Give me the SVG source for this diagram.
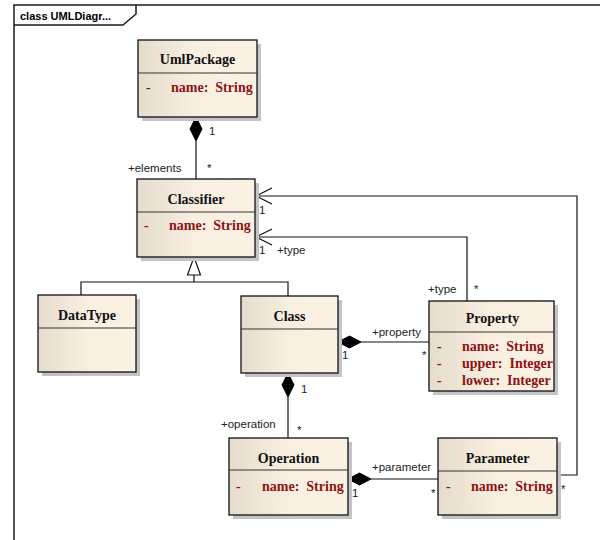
<svg xmlns="http://www.w3.org/2000/svg" width="600" height="540" viewBox="0 0 600 540">
  <style>
    .frame { fill: none; stroke: #1a1a1a; stroke-width: 1.5; }
    .frame-title { font-family: "Liberation Sans", Arial, sans-serif; font-size: 11px; font-weight: bold; fill: #000; }
    .shadow { fill: #c4c4c4; }
    .box { fill: url(#classFill); stroke: #111; stroke-width: 1.3; }
    .divider { stroke: #333; stroke-width: 1.2; }
    .title { font-family: "Liberation Serif", "Times New Roman", serif; font-size: 14px; font-weight: bold; fill: #111; text-anchor: middle; }
    .attr { font-family: "Liberation Serif", "Times New Roman", serif; font-size: 14px; font-weight: bold; fill: #8e1212; white-space: pre; }
    .edge { fill: none; stroke: #111; stroke-width: 1.2; }
    .diamond { fill: #000; stroke: #000; stroke-width: 1; }
    .gen { fill: #fff; stroke: #111; stroke-width: 1.2; }
    .lbl { font-family: "Liberation Sans", Arial, sans-serif; font-size: 11.5px; fill: #222; }
  </style>
  <defs>
    <linearGradient id="classFill" x1="0" y1="0" x2="1" y2="0">
      <stop offset="0" stop-color="#e5dccd"/>
      <stop offset="0.5" stop-color="#f8efe1"/>
      <stop offset="1" stop-color="#fbf2e4"/>
    </linearGradient>
  </defs>

  <rect width="600" height="540" fill="#fff"/>

  <!-- diagram frame with name tab -->
  <g id="frame">
    <path class="frame" d="M14,541 V5 H601"/>
    <path class="frame" d="M14,25 H123 L136,14 V5"/>
    <text class="frame-title" x="20" y="20">class UMLDiagr...</text>
  </g>

  <!-- connectors -->
  <g id="connectors">
    <!-- UmlPackage composes Classifier -->
    <line class="edge" x1="196" y1="141" x2="196" y2="179"/>
    <polygon class="diamond" points="196,117 202,129 196,141 190,129"/>

    <!-- Parameter -> Classifier -->
    <polyline class="edge" points="557,475 577,475 577,196 256,196"/>
    <polyline class="edge" points="272,188 256,196 272,204"/>

    <!-- Property +type -> Classifier -->
    <polyline class="edge" points="467,301 467,237 256,237"/>
    <polyline class="edge" points="272,229 256,237 272,245"/>

    <!-- generalization -->
    <polyline class="edge" points="81,295 81,282 288,282 288,296"/>
    <line class="edge" x1="194" y1="275" x2="194" y2="282"/>
    <polygon class="gen" points="194,257 200.5,275 187.5,275"/>

    <!-- Class composes Property -->
    <line class="edge" x1="361" y1="342" x2="429" y2="342"/>
    <polygon class="diamond" points="338,342 349.5,336 361,342 349.5,348"/>

    <!-- Class composes Operation -->
    <line class="edge" x1="288" y1="397" x2="288" y2="438"/>
    <polygon class="diamond" points="288,373 294,385 288,397 282,385"/>

    <!-- Operation composes Parameter -->
    <line class="edge" x1="371" y1="479" x2="438" y2="479"/>
    <polygon class="diamond" points="348,479 359.5,473 371,479 359.5,485"/>

    <!-- end labels -->
    <text class="lbl" x="209" y="135">1</text>
    <text class="lbl" x="128" y="172">+elements</text>
    <text class="lbl" x="207" y="172">*</text>
    <text class="lbl" x="259" y="214">1</text>
    <text class="lbl" x="259" y="254">1</text>
    <text class="lbl" x="277" y="254">+type</text>
    <text class="lbl" x="428" y="293">+type</text>
    <text class="lbl" x="474" y="293">*</text>
    <text class="lbl" x="372" y="336">+property</text>
    <text class="lbl" x="342" y="359">1</text>
    <text class="lbl" x="422" y="359">*</text>
    <text class="lbl" x="301" y="393">1</text>
    <text class="lbl" x="221" y="428">+operation</text>
    <text class="lbl" x="297" y="434">*</text>
    <text class="lbl" x="372" y="471">+parameter</text>
    <text class="lbl" x="352" y="497">1</text>
    <text class="lbl" x="431" y="497">*</text>
    <text class="lbl" x="561" y="493">*</text>
  </g>

  <!-- classes -->
  <g id="UmlPackage">
    <rect class="shadow" x="142" y="44" width="119" height="77"/>
    <rect class="box" x="138" y="40" width="119" height="77"/>
    <line class="divider" x1="138" y1="73" x2="257" y2="73"/>
    <text class="title" x="197.5" y="64">UmlPackage</text>
    <text class="attr" x="146" y="92">-</text>
    <text class="attr" x="171" y="92">name:  String</text>
  </g>

  <g id="Classifier">
    <rect class="shadow" x="141" y="183" width="118" height="78"/>
    <rect class="box" x="137" y="179" width="118" height="78"/>
    <line class="divider" x1="137" y1="212" x2="255" y2="212"/>
    <text class="title" x="196" y="204">Classifier</text>
    <text class="attr" x="144" y="230">-</text>
    <text class="attr" x="169" y="230">name:  String</text>
  </g>

  <g id="DataType">
    <rect class="shadow" x="42" y="299" width="98" height="77"/>
    <rect class="box" x="38" y="295" width="98" height="77"/>
    <line class="divider" x1="38" y1="328" x2="136" y2="328"/>
    <text class="title" x="87" y="320">DataType</text>
  </g>

  <g id="Class">
    <rect class="shadow" x="245" y="300" width="97" height="77"/>
    <rect class="box" x="241" y="296" width="97" height="77"/>
    <line class="divider" x1="241" y1="329" x2="338" y2="329"/>
    <text class="title" x="289.5" y="321">Class</text>
  </g>

  <g id="Property">
    <rect class="shadow" x="433" y="305" width="125" height="90"/>
    <rect class="box" x="429" y="301" width="125" height="90"/>
    <line class="divider" x1="429" y1="332" x2="554" y2="332"/>
    <text class="title" x="492.5" y="323">Property</text>
    <text class="attr" x="437" y="351">-</text>
    <text class="attr" x="462" y="351">name:  String</text>
    <text class="attr" x="437" y="368">-</text>
    <text class="attr" x="462" y="368">upper:  Integer</text>
    <text class="attr" x="437" y="385">-</text>
    <text class="attr" x="462" y="385">lower:  Integer</text>
  </g>

  <g id="Operation">
    <rect class="shadow" x="233" y="442" width="119" height="77"/>
    <rect class="box" x="229" y="438" width="119" height="77"/>
    <line class="divider" x1="229" y1="470" x2="348" y2="470"/>
    <text class="title" x="288.5" y="463">Operation</text>
    <text class="attr" x="236" y="491">-</text>
    <text class="attr" x="262" y="491">name:  String</text>
  </g>

  <g id="Parameter">
    <rect class="shadow" x="442" y="442" width="119" height="77"/>
    <rect class="box" x="438" y="438" width="119" height="77"/>
    <line class="divider" x1="438" y1="471" x2="557" y2="471"/>
    <text class="title" x="497.5" y="463">Parameter</text>
    <text class="attr" x="446" y="491">-</text>
    <text class="attr" x="471" y="491">name:  String</text>
  </g>
</svg>
